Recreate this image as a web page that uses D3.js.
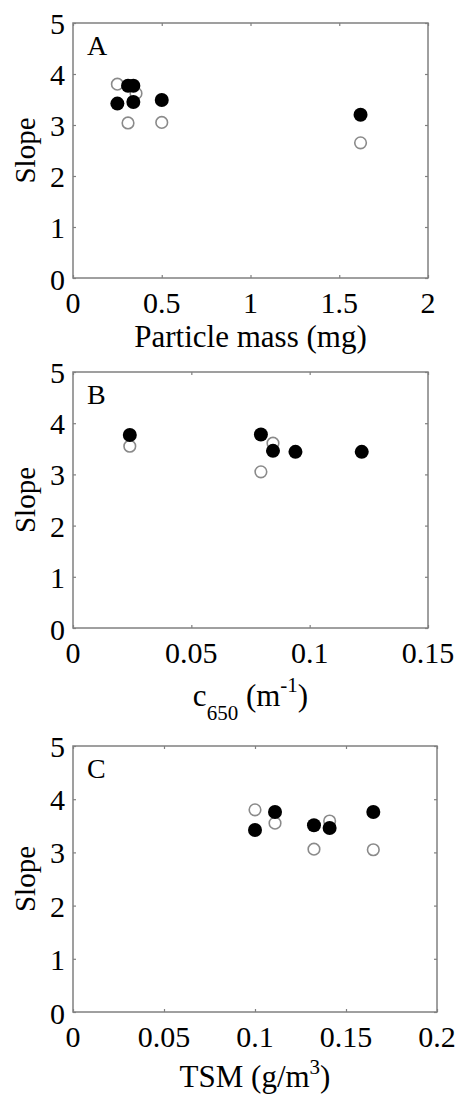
<!DOCTYPE html>
<html>
<head>
<meta charset="utf-8">
<script src="https://cdn.jsdelivr.net/npm/d3@7"></script>
<style>
  html, body { margin: 0; padding: 0; background: #fff; }
  svg { display: block; }
  text { font-family: "Liberation Serif", "Times New Roman", serif; fill: #000; }
</style>
</head>
<body>
<svg id="chart" width="460" height="1096"></svg>
<script>
// ---------- data ----------
const yTicks = [0, 1, 2, 3, 4, 5];

// Panel A: Particle mass (mg)
const aTicks = [0, 0.5, 1, 1.5, 2];
const aFilledX = [0.25, 0.31, 0.34, 0.34, 0.50, 1.62];
const aFilledY = [3.42, 3.77, 3.77, 3.45, 3.49, 3.20];
const aOpenX = [0.25, 0.31, 0.355, 0.50, 1.62];
const aOpenY = [3.80, 3.04, 3.62, 3.05, 2.65];

// Panel B: c650 (m^-1)
const bTicks = [0, 0.05, 0.1, 0.15];
const bFilledX = [0.024, 0.0794, 0.0845, 0.094, 0.122];
const bFilledY = [3.77, 3.78, 3.46, 3.44, 3.44];
const bOpenX = [0.024, 0.0794, 0.0845];
const bOpenY = [3.55, 3.05, 3.61];

// Panel C: TSM (g/m^3)
const cTicks = [0, 0.05, 0.1, 0.15, 0.2];
const cFilledX = [0.1, 0.111, 0.1324, 0.141, 0.165];
const cFilledY = [3.42, 3.76, 3.51, 3.46, 3.76];
const cOpenX = [0.1, 0.111, 0.1324, 0.141, 0.165];
const cOpenY = [3.80, 3.55, 3.06, 3.59, 3.05];

// ---------- drawing ----------
const svg = d3.select("#chart");
const frameColor = "#808080";

function panel(cfg) {
  const g = svg.append("g");
  const x = d3.scaleLinear().domain([cfg.xTicks[0], cfg.xTicks[cfg.xTicks.length - 1]]).range([cfg.left, cfg.right]);
  const y = d3.scaleLinear().domain([0, 5]).range([cfg.bottom, cfg.top]);

  // frame
  g.append("rect")
    .attr("x", cfg.left).attr("y", cfg.top)
    .attr("width", cfg.right - cfg.left).attr("height", cfg.bottom - cfg.top)
    .attr("fill", "none").attr("stroke", frameColor).attr("stroke-width", 1.5);

  // inward tick marks on all four sides
  const tl = 3;
  const axB = d3.axisBottom(x).tickValues(cfg.xTicks).tickSize(-tl).tickFormat("");
  const axT = d3.axisTop(x).tickValues(cfg.xTicks).tickSize(-tl).tickFormat("");
  const axL = d3.axisLeft(y).tickValues(yTicks).tickSize(-tl).tickFormat("");
  const axR = d3.axisRight(y).tickValues(yTicks).tickSize(-tl).tickFormat("");
  [[axB, `translate(0,${cfg.bottom})`], [axT, `translate(0,${cfg.top})`],
   [axL, `translate(${cfg.left},0)`], [axR, `translate(${cfg.right},0)`]].forEach(([ax, tr]) => {
    const a = g.append("g").attr("transform", tr).call(ax);
    a.select(".domain").remove();
    a.selectAll("line").attr("stroke", frameColor).attr("stroke-width", 1.2);
  });

  // tick labels
  g.selectAll(".xt").data(cfg.xTicks).enter().append("text")
    .attr("x", d => x(d)).attr("y", cfg.bottom + 35)
    .attr("text-anchor", "middle").attr("font-size", 30)
    .text(d => String(d));
  g.selectAll(".yt").data(yTicks).enter().append("text")
    .attr("x", d => d === 0 ? cfg.left - 8 : cfg.left - 8)
    .attr("y", d => y(d) + (d === 0 ? 12 : 11))
    .attr("text-anchor", "end").attr("font-size", 30)
    .text(d => String(d));

  // panel letter
  g.append("text").attr("x", cfg.left + 14).attr("y", cfg.top + 32)
    .attr("font-size", 28).text(cfg.letter);

  // y label
  g.append("text")
    .attr("transform", `translate(35,${(cfg.top + cfg.bottom) / 2}) rotate(-90)`)
    .attr("text-anchor", "middle").attr("font-size", 29).text("Slope");

  // x label
  cfg.xLabel(g, (cfg.left + cfg.right) / 2, cfg.bottom + cfg.labelOffset);

  // markers: open first, filled on top
  const openPts = cfg.openX.map((v, i) => [v, cfg.openY[i]]);
  const filledPts = cfg.filledX.map((v, i) => [v, cfg.filledY[i]]);
  g.selectAll(".open").data(openPts).enter().append("circle")
    .attr("cx", d => x(d[0])).attr("cy", d => y(d[1])).attr("r", 5.8)
    .attr("fill", "#fff").attr("stroke", "#8a8a8a").attr("stroke-width", 1.6);
  g.selectAll(".filled").data(filledPts).enter().append("circle")
    .attr("cx", d => x(d[0])).attr("cy", d => y(d[1])).attr("r", 7)
    .attr("fill", "#000");
}

panel({
  top: 23, bottom: 278, left: 73, right: 428, xTicks: aTicks, letter: "A",
  filledX: aFilledX, filledY: aFilledY, openX: aOpenX, openY: aOpenY, labelOffset: 69,
  xLabel: (g, cx, by) => g.append("text").attr("x", cx).attr("y", by)
    .attr("text-anchor", "middle").attr("font-size", 31).text("Particle mass (mg)")
});

panel({
  top: 372, bottom: 628, left: 73, right: 428, xTicks: bTicks, letter: "B",
  filledX: bFilledX, filledY: bFilledY, openX: bOpenX, openY: bOpenY, labelOffset: 78,
  xLabel: (g, cx, by) => {
    const t = g.append("text").attr("x", cx).attr("y", by)
      .attr("text-anchor", "middle").attr("font-size", 31);
    t.append("tspan").text("c");
    t.append("tspan").attr("font-size", 21).attr("dy", 14).text("650");
    t.append("tspan").attr("dy", -14).text(" (m");
    t.append("tspan").attr("font-size", 21).attr("dy", -14).text("-1");
    t.append("tspan").attr("dy", 14).text(")");
  }
});

panel({
  top: 746, bottom: 1012, left: 73, right: 437, xTicks: cTicks, letter: "C",
  filledX: cFilledX, filledY: cFilledY, openX: cOpenX, openY: cOpenY, labelOffset: 75,
  xLabel: (g, cx, by) => {
    const t = g.append("text").attr("x", cx).attr("y", by)
      .attr("text-anchor", "middle").attr("font-size", 31);
    t.append("tspan").text("TSM (g/m");
    t.append("tspan").attr("font-size", 21).attr("dy", -13).text("3");
    t.append("tspan").attr("dy", 13).text(")");
  }
});
</script>
</body>
</html>
